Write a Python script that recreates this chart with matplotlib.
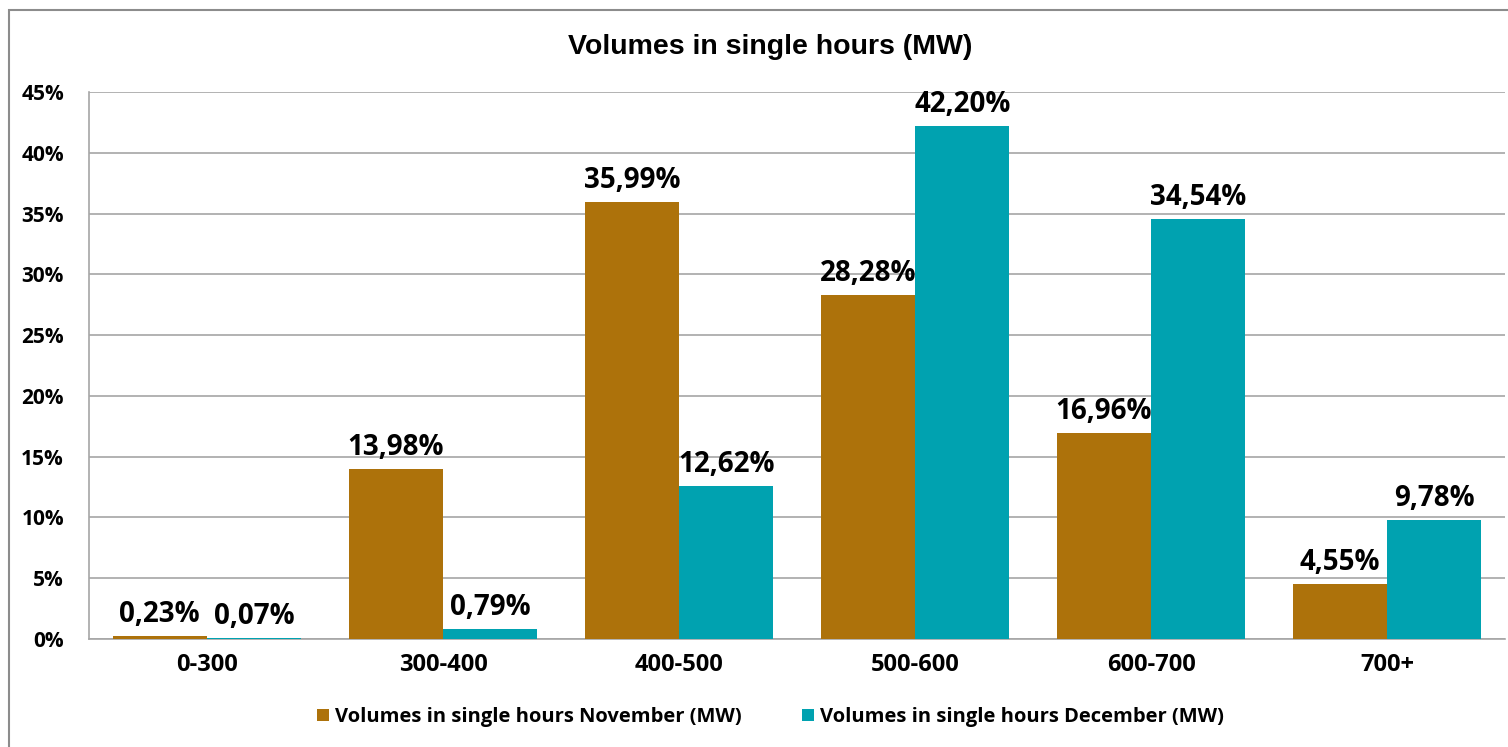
import numpy as np
import matplotlib.pyplot as plt
from matplotlib.patches import Rectangle

categories = ['0-300', '300-400', '400-500', '500-600', '600-700', '700+']
november = [0.23, 13.98, 35.99, 28.28, 16.96, 4.55]
december = [0.07, 0.79, 12.62, 42.20, 34.54, 9.78]
yticks = [0, 5, 10, 15, 20, 25, 30, 35, 40, 45]

brown = '#AD720B'
teal = '#00A2B0'
grid = '#A6A6A6'
lab_font = ['Open Sans', 'DejaVu Sans']

fig = plt.figure(figsize=(15.08, 7.47), dpi=100)
# outer chart frame
fig.patches.append(Rectangle((9/1508, -0.01), 1.0, 1 - 10/747 + 0.01, transform=fig.transFigure,
                             fill=False, edgecolor='#8C8C8C', linewidth=1.5))

ax = fig.add_axes([89/1508, 1 - 639/747, (1505 - 89)/1508, (639 - 92)/747])
x = np.arange(len(categories))
w = 0.4
b1 = ax.bar(x - w/2, november, w, color=brown, label='Volumes in single hours November (MW)', zorder=3)
b2 = ax.bar(x + w/2, december, w, color=teal, label='Volumes in single hours December (MW)', zorder=3)

for bars, vals in ((b1, november), (b2, december)):
    for r, v in zip(bars, vals):
        ax.annotate(f'{v:.2f}%'.replace('.', ','), (r.get_x() + r.get_width()/2, r.get_height()),
                    xytext=(0, 5), textcoords='offset points', ha='center', va='bottom',
                    fontsize=20, fontweight='bold', family=lab_font, zorder=4)

ax.set_xlim(-0.5, len(categories) - 0.5)
ax.set_ylim(0, 45)
ax.set_yticks(yticks)
ax.set_yticklabels([f'{t}%' for t in yticks], fontsize=15, fontweight='bold', family=lab_font)
ax.set_xticks(x)
ax.set_xticklabels(categories, fontsize=17, fontweight='bold', family=lab_font)
ax.tick_params(length=0, pad=10)
ax.tick_params(axis='y', pad=18)
ax.yaxis.grid(True, color=grid, linewidth=1.2, zorder=0)
for s in ('top', 'right'):
    ax.spines[s].set_visible(False)
for s in ('left', 'bottom'):
    ax.spines[s].set_color(grid)
    ax.spines[s].set_linewidth(1.2)

fig.text(0.511, 1 - 47/747, 'Volumes in single hours (MW)', ha='center', va='center',
         fontsize=20.5, fontweight='bold', family='Liberation Sans')

leg = fig.legend(loc='center', bbox_to_anchor=(0.511, 1 - 717/747), ncol=2, frameon=False,
                 prop={'family': lab_font, 'weight': 'bold', 'size': 14.5},
                 handlelength=0.6, handleheight=0.6, handletextpad=0.3, columnspacing=3.0)

fig.savefig('out.png', dpi=100)
